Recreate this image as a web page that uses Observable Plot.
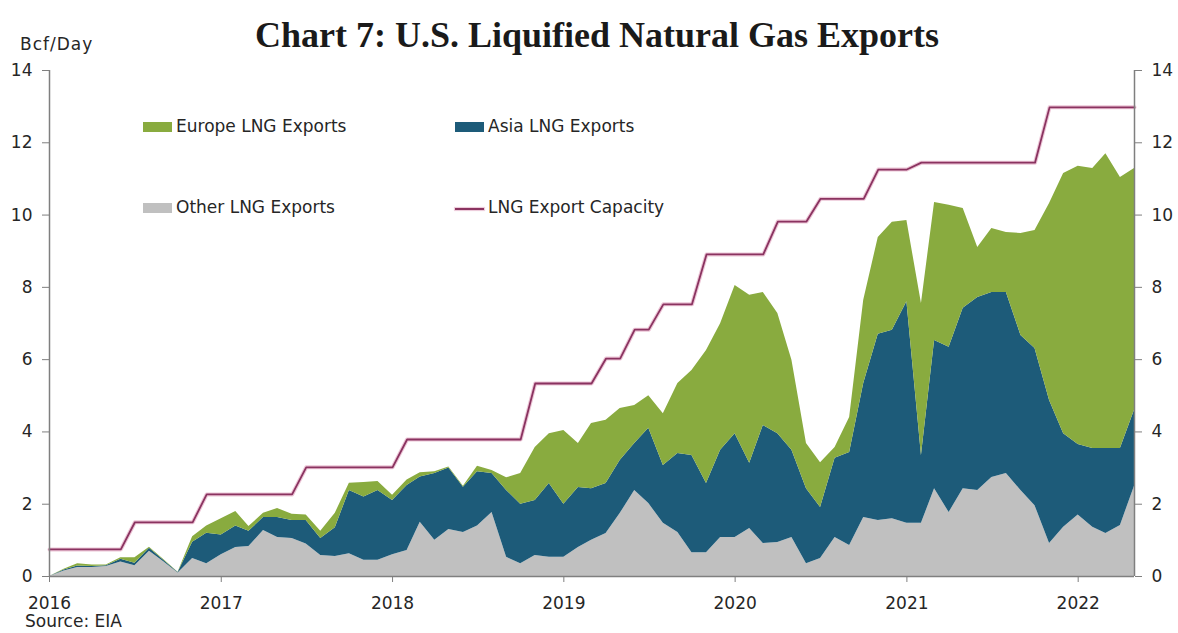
<!DOCTYPE html>
<html><head><meta charset="utf-8">
<script src="https://cdn.jsdelivr.net/npm/d3@7"></script>
<script src="https://cdn.jsdelivr.net/npm/@observablehq/plot@0.6"></script>
<style>
body{margin:0;background:#fff;}
#wrap{position:relative;width:1178px;height:633px;overflow:hidden;font-family:"DejaVu Sans",sans-serif;color:#262626;}
#chart{position:absolute;left:0;top:0;}
.t{position:absolute;white-space:nowrap;font-size:17px;line-height:17px;}
#title{position:absolute;left:0;width:1194px;top:17px;text-align:center;font-family:"Liberation Serif",serif;font-weight:bold;font-size:36px;line-height:36px;color:#1a1a1a;}
.sw{position:absolute;width:29px;height:10px;}
.ln{position:absolute;width:29px;height:2px;background:#8a3360;box-shadow:0 0 1px 1px #ecc7d7;}
</style></head><body>
<div id="wrap">
<div id="chart"></div>
<div id="title"></div>
<div class="t" id="unit" style="left:20px;top:36px;letter-spacing:1px;"></div>
<div class="t" id="source" style="left:25px;top:613px;"></div>
<div id="legend"></div>
</div>
<script>
const months = d3.utcMonth.range(new Date(Date.UTC(2016,0,1)), new Date(Date.UTC(2022,5,1)));
const otherLNG = [0,0.15,0.25,0.25,0.28,0.4,0.3,0.7,0.4,0.1,0.5,0.35,
  0.6,0.8,0.83,1.27,1.08,1.05,0.9,0.58,0.55,0.63,0.45,0.45,
  0.6,0.72,1.5,1.0,1.3,1.22,1.4,1.77,0.53,0.35,0.58,0.53,
  0.53,0.8,1.0,1.19,1.74,2.38,2.02,1.47,1.22,0.66,0.66,1.08,
  1.08,1.33,0.91,0.94,1.08,0.35,0.5,1.08,0.86,1.63,1.55,1.6,
  1.47,1.47,2.43,1.77,2.43,2.38,2.74,2.85,2.38,1.96,0.91,1.36,
  1.7,1.36,1.19,1.41,2.5];
const asiaLNG = [0,0.03,0.04,0.03,0.02,0.08,0.07,0.08,0.04,0.01,0.45,0.85,
  0.55,0.6,0.42,0.36,0.55,0.5,0.65,0.47,0.8,1.75,1.75,1.93,
  1.5,1.8,1.25,1.85,1.7,1.25,1.5,1.08,1.85,1.65,1.52,2.04,
  1.47,1.66,1.43,1.38,1.47,1.3,2.08,1.6,2.18,2.69,1.91,2.41,
  2.87,1.8,3.27,3.01,2.41,2.08,1.41,2.19,2.57,3.71,5.15,5.21,
  6.13,1.88,4.1,4.57,4.99,5.34,5.12,5.01,4.29,4.35,3.96,2.59,
  1.95,2.18,2.35,2.13,2.1];
const europeLNG = [0,0.02,0.06,0.04,0.02,0.04,0.15,0.03,0.02,0.01,0.15,0.2,
  0.45,0.4,0.13,0.12,0.25,0.17,0.15,0.2,0.4,0.2,0.4,0.25,
  0.15,0.15,0.12,0.05,0.03,0.03,0.15,0.08,0.35,0.85,1.47,1.38,
  2.04,1.22,1.8,1.75,1.44,1.05,0.9,1.43,1.94,2.35,3.68,3.5,
  4.1,4.65,3.68,3.33,2.49,1.25,1.24,0.3,0.97,2.3,2.68,2.99,
  2.25,4.2,3.82,3.93,2.76,1.38,1.77,1.66,2.82,3.26,5.45,7.2,
  7.7,7.75,8.16,7.5,6.69];
const capacity = [0.75,0.75,0.75,0.75,0.75,0.75,1.5,1.5,1.5,1.5,1.5,2.27,
  2.27,2.27,2.27,2.27,2.27,2.27,3.02,3.02,3.02,3.02,3.02,3.02,
  3.02,3.79,3.79,3.79,3.79,3.79,3.79,3.79,3.79,3.79,5.34,5.34,
  5.34,5.34,5.34,6.03,6.03,6.83,6.83,7.53,7.53,7.53,8.91,8.91,
  8.91,8.91,8.91,9.82,9.82,9.82,10.45,10.45,10.45,10.45,11.26,11.26,
  11.26,11.45,11.45,11.45,11.45,11.45,11.45,11.45,11.45,11.45,12.98,12.98,
  12.98,12.98,12.98,12.98,12.98];
const seriesNames = ["Other LNG Exports","Asia LNG Exports","Europe LNG Exports"];
const seriesColors = ["#c0c0c0","#1d5b79","#89ab3f"];
const capacityName = "LNG Export Capacity";
const yTicks = [0,2,4,6,8,10,12,14];
const yearTicks = ["2016","2017","2018","2019","2020","2021","2022"];
const titleText = "Chart 7: U.S. Liquified Natural Gas Exports";
const unitText = "Bcf/Day";
const sourceText = "Source: EIA";

const long = [];
months.forEach((d,i)=>{
  long.push({date:d, series:seriesNames[0], value:otherLNG[i]});
  long.push({date:d, series:seriesNames[1], value:asiaLNG[i]});
  long.push({date:d, series:seriesNames[2], value:europeLNG[i]});
});
const capData = months.map((d,i)=>({date:d, cap:capacity[i]}));
const xDomain = [months[0], months[months.length-1]];
const yearDates = yearTicks.map(y=>new Date(Date.UTC(+y,0,1)));
const axisGray = "#7f7f7f";

const chart = Plot.plot({
  width:1178, height:633,
  marginLeft:49, marginRight:44, marginTop:70, marginBottom:57,
  style:{fontFamily:'"DejaVu Sans", sans-serif', fontSize:"17px", color:"#262626", background:"transparent", overflow:"visible"},
  x:{type:"utc", domain:xDomain},
  y:{domain:[0,14]},
  color:{domain:seriesNames, range:seriesColors},
  marks:[
    Plot.areaY(long, {x:"date", y:"value", fill:"series", order:seriesNames, curve:"linear"}),
    Plot.lineY(capData, {x:"date", y:"cap", stroke:"#ecc5d6", strokeWidth:4}),
    Plot.lineY(capData, {x:"date", y:"cap", stroke:"#8a3360", strokeWidth:1.8}),
    Plot.ruleY([0], {stroke:axisGray, strokeWidth:1.5}),
    Plot.ruleX([xDomain[0]], {stroke:axisGray, strokeWidth:1.5}),
    Plot.ruleX([xDomain[1]], {stroke:axisGray, strokeWidth:1.5}),
    Plot.axisY({anchor:"left", ticks:yTicks, tickSize:7, tickPadding:10, stroke:axisGray, fill:"#262626", label:null}),
    Plot.axisY({anchor:"right", ticks:yTicks, tickSize:7, tickPadding:10, stroke:axisGray, fill:"#262626", label:null}),
    Plot.axisX({anchor:"bottom", ticks:yearDates, tickSize:6, tickPadding:14, tickFormat:d=>yearTicks[yearDates.findIndex(y=>+y===+d)], stroke:axisGray, fill:"#262626", label:null})
  ]
});
document.getElementById("chart").appendChild(chart);
document.getElementById("title").textContent = titleText;
document.getElementById("unit").textContent = unitText;
document.getElementById("source").textContent = sourceText;

const legendItems = [
  {name:seriesNames[2], kind:"sw", color:seriesColors[2], left:143, top:122},
  {name:seriesNames[1], kind:"sw", color:seriesColors[1], left:455, top:122},
  {name:seriesNames[0], kind:"sw", color:seriesColors[0], left:143, top:203},
  {name:capacityName, kind:"ln", color:"#8a3360", left:455, top:203}
];
const lg = document.getElementById("legend");
legendItems.forEach(it=>{
  const s = document.createElement("div");
  s.className = it.kind;
  s.style.left = it.left+"px";
  if(it.kind==="sw"){ s.style.top = it.top+"px"; s.style.background = it.color; }
  else { s.style.top = (it.top+5)+"px"; }
  lg.appendChild(s);
  const t = document.createElement("div");
  t.className = "t";
  t.style.left = (it.left+33)+"px";
  t.style.top = (it.top-4)+"px";
  t.textContent = it.name;
  lg.appendChild(t);
});
</script>
</body></html>
